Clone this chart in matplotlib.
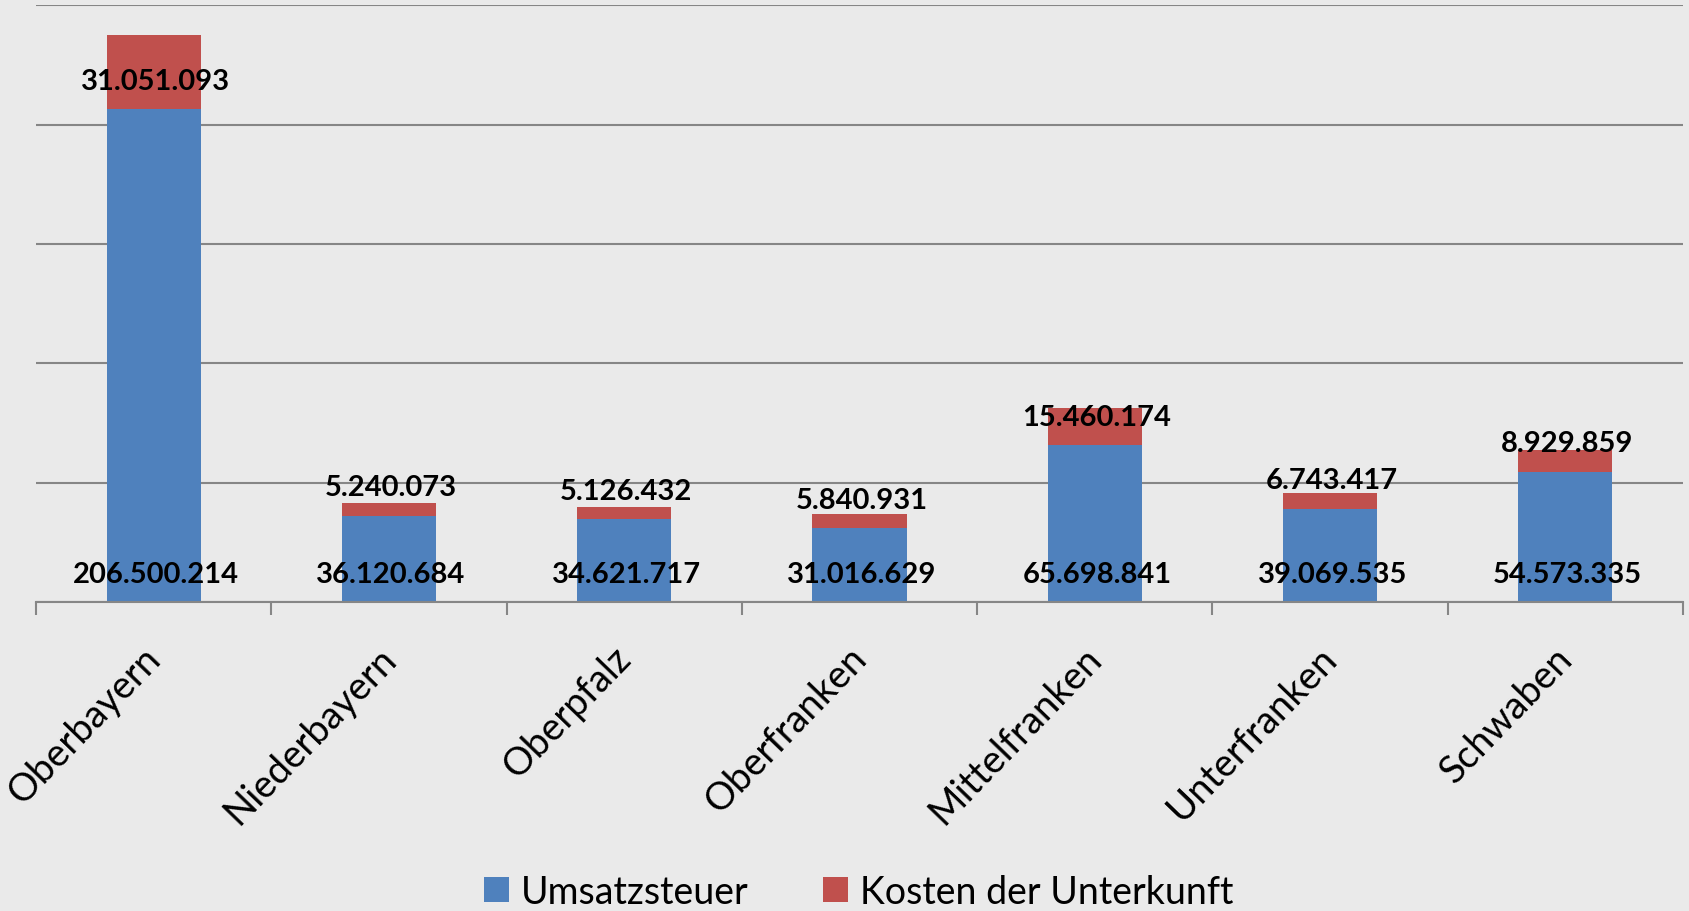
import matplotlib.pyplot as plt
import matplotlib.transforms as mtransforms
import numpy as np

regionen = ['Oberbayern', 'Niederbayern', 'Oberpfalz', 'Oberfranken',
            'Mittelfranken', 'Unterfranken', 'Schwaben']
umsatzsteuer = [206500214, 36120684, 34621717, 31016629, 65698841, 39069535, 54573335]
kosten_unterkunft = [31051093, 5240073, 5126432, 5840931, 15460174, 6743417, 8929859]


def de_format(v):
    # Tausenderpunkte wie im Original
    return f"{v:,}".replace(",", ".")


def main():
    plt.rcParams['font.family'] = ['Lato', 'DejaVu Sans']
    bg = '#EAEAEA'
    fig = plt.figure(figsize=(16.9, 9.12), dpi=100, facecolor=bg)
    ax = fig.add_axes([0.0213, 0.3388, 0.9746, 0.6541])
    ax.set_facecolor(bg)

    x = np.arange(len(regionen))
    b1 = ax.bar(x, umsatzsteuer, width=0.4, color='#4F81BD', label='Umsatzsteuer', zorder=2)
    b2 = ax.bar(x, kosten_unterkunft, width=0.4, bottom=umsatzsteuer, color='#C0504D',
                label='Kosten der Unterkunft', zorder=2)

    # Beschriftungen "Innen unten"
    for i in range(len(regionen)):
        ax.annotate(de_format(umsatzsteuer[i]), (x[i], 0), xytext=(1.5, 20.5),
                    textcoords='offset points', ha='center', va='center',
                    fontsize=21, fontweight='bold', zorder=3)
        ax.annotate(de_format(kosten_unterkunft[i]), (x[i], umsatzsteuer[i]), xytext=(1.5, 20.5),
                    textcoords='offset points', ha='center', va='center',
                    fontsize=21, fontweight='bold', zorder=3)

    ax.set_xlim(-0.5, len(regionen) - 0.5)
    ax.set_ylim(0, 250e6)
    ax.set_yticks(np.arange(0, 250e6 + 1, 50e6))
    ax.yaxis.grid(True, color='#868686', linewidth=1.5, zorder=0)
    ax.tick_params(axis='y', left=False, labelleft=False)

    for s in ['top', 'left', 'right']:
        ax.spines[s].set_visible(False)
    ax.spines['bottom'].set_color('#868686')
    ax.spines['bottom'].set_linewidth(1.5)

    ax.set_xticks(x)
    ax.set_xticklabels(regionen, rotation=46, ha='right', rotation_mode='anchor',
                       fontsize=27.5)
    ax.tick_params(axis='x', which='major', length=0, pad=27)
    # Beschriftungen etwas nach links schieben
    verschiebung = mtransforms.ScaledTranslation(-12 / 100, 0, fig.dpi_scale_trans)
    for lbl in ax.get_xticklabels():
        lbl.set_transform(lbl.get_transform() + verschiebung)
    ax.set_xticks(np.arange(-0.5, len(regionen)), minor=True)
    ax.tick_params(axis='x', which='minor', length=9.5, width=1.5, color='#868686')

    fig.legend(handles=[b1, b2], loc='center', bbox_to_anchor=(0.508, 0.021), ncol=2,
               frameon=False, fontsize=27, handlelength=0.67, handleheight=0.67,
               handletextpad=0.3, columnspacing=2.0)

    fig.savefig('out.png', dpi=100, facecolor=bg)


if __name__ == "__main__":
    main()
